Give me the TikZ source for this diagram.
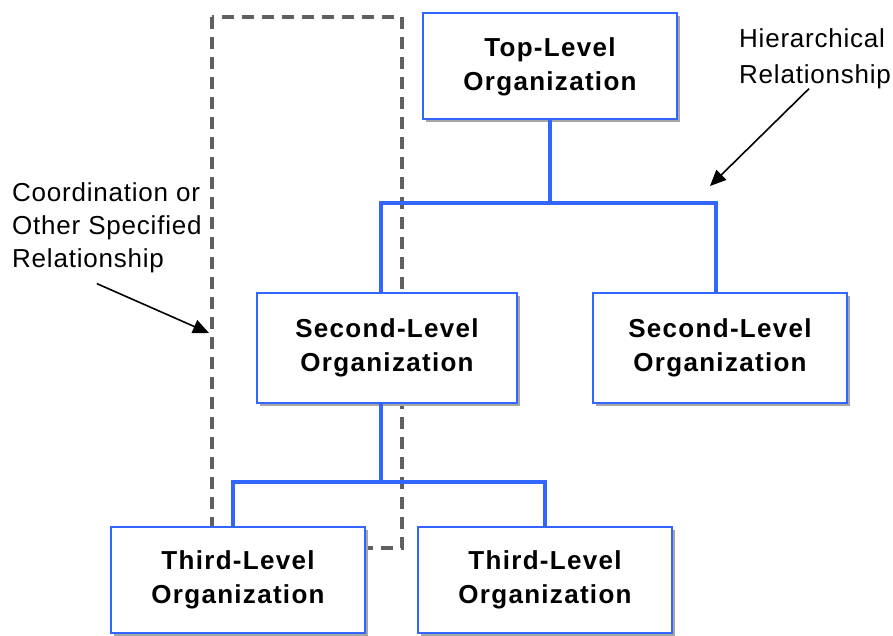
\documentclass[tikz,border=0pt]{standalone}
\usepackage{fontspec}
\setmainfont{Liberation Sans}
\newfontfamily\boxfont[LetterSpace=5]{Liberation Sans}
\newfontfamily\notefont[LetterSpace=3]{Liberation Sans}
\usetikzlibrary{positioning, shadows, arrows.meta}
\definecolor{orgblue}{RGB}{51,102,255}
\definecolor{dashgray}{RGB}{96,96,96}

\tikzset{
    org/.style={draw=orgblue, line width=2pt, fill=white,
                minimum width=254pt, minimum height=106pt, align=center,
                font=\fontsize{26}{34}\selectfont\boxfont\bfseries,
                drop shadow={shadow xshift=3pt, shadow yshift=-3pt,
                             fill=black!35, opacity=1}},
    link/.style={orgblue, line width=3.5pt},
    group/.style={dashgray, line width=3.5pt, dash pattern=on 12pt off 8pt},
    note/.style={inner sep=0pt, align=left},
    pointer/.style={line width=1.6pt, -{Triangle[length=16pt, width=14pt]}}
}

\begin{document}
\begin{tikzpicture}[x=1pt, y=-1pt]
    \useasboundingbox (0,0) rectangle (893,636);

    % coordination box
    \coordinate (grouptl) at (212,17);
    \coordinate (groupbr) at (402,548);
    \draw[group] (grouptl) rectangle (groupbr);

    \node[org] (top) at (550,66.5) {Top-Level\\Organization};
    \node[org, minimum width=260pt, minimum height=110pt] (sec1) at (387,348)
        {Second-Level\\Organization};
    \node[org, minimum height=110pt, right=74pt of sec1] (sec2)
        {Second-Level\\Organization};
    \node[org] (thd1) at (238,580) {Third-Level\\Organization};
    \node[org, right=51pt of thd1] (thd2) {Third-Level\\Organization};

    \coordinate (bar1) at (550,203);
    \coordinate (bar2) at (381,482);
    \draw[link] (top) -- (bar1);
    \draw[link] ([xshift=-6pt]sec1.north) |- (bar1) -| ([xshift=-4pt]sec2.north);
    \draw[link] ([xshift=-6pt]sec1.south) -- (bar2);
    \draw[link] ([xshift=-5pt]thd1.north) |- (bar2) -| (thd2.north);

    % labels
    \node[note, anchor=north west, font=\fontsize{26}{36}\selectfont\notefont]
        (hiertext) at (739,28) {Hierarchical\\Relationship};
    \coordinate (hiertip) at (710,186);
    \draw[pointer] ([xshift=-6pt]hiertext.south) -- (hiertip);

    \node[note, anchor=north west, font=\fontsize{26}{33}\selectfont\notefont]
        (coordtext) at (12,182) {Coordination or\\Other Specified\\Relationship};
    \coordinate (coordtip) at (209,333);
    \draw[pointer] ([shift={(-10,11)}]coordtext.south) -- (coordtip);
\end{tikzpicture}
\end{document}
